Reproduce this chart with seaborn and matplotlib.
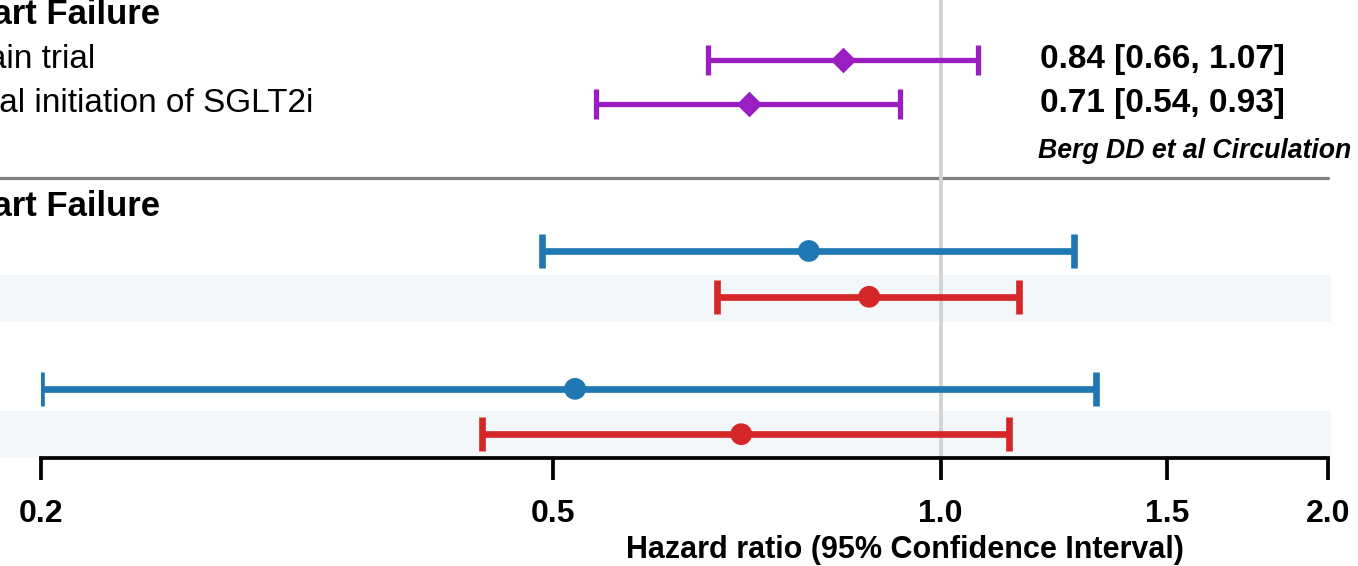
import matplotlib
matplotlib.use("Agg")
import matplotlib.pyplot as plt
import seaborn as sns
import pandas as pd
from matplotlib.ticker import NullLocator

# upper panel (single estimates, purple diamonds)
top_labels = ["Main trial", "Universal initiation of SGLT2i"]
top_hr = [0.84, 0.71]
top_lo = [0.66, 0.54]
top_hi = [1.07, 0.93]
top_text = ["0.84 [0.66, 1.07]", "0.71 [0.54, 0.93]"]
citation = "Berg DD et al Circulation"
header = "Heart Failure"

# lower panel (two series, blue / red)
low_group = ["A", "B", "A", "B"]
low_hr = [0.79, 0.88, 0.52, 0.70]
low_lo = [0.49, 0.67, 0.20, 0.44]
low_hi = [1.27, 1.15, 1.32, 1.13]

xticks = [0.2, 0.5, 1.0, 1.5, 2.0]
xticklabels = ["0.2", "0.5", "1.0", "1.5", "2.0"]
xlabel = "Hazard ratio (95% Confidence Interval)"

# layout (rows counted from the top, 10 rows high)
top_rows = [1.31, 2.27]
low_rows = [5.48, 6.48, 8.49, 9.48]
band_rows = [(6.0, 7.02), (8.97, 10.0)]
header_rows = [0.32, 4.5]
sep_row = 3.89
cite_row = 3.3

colors = {"A": "#1f77b4", "B": "#d62728"}
purple = "#9a1ec1"

sns.set_style("white")
plt.rcParams["font.family"] = ["Liberation Sans", "DejaVu Sans"]
plt.rcParams["text.color"] = "black"

W, H = 1358, 566
fig = plt.figure(figsize=(W / 100, H / 100), dpi=100)
ax = fig.add_axes([41 / W, 1 - 458 / H, 1287 / W, 458 / H])
ax.set_xscale("log")

top = pd.DataFrame({"hr": top_hr, "lo": top_lo, "hi": top_hi, "y": top_rows})
low = pd.DataFrame({"group": low_group, "hr": low_hr, "lo": low_lo, "hi": low_hi, "y": low_rows})

# shaded bands and separator
for b0, b1 in band_rows:
    ax.axhspan(b0, b1, xmin=-0.04, xmax=1.0023, color="#f3f7f9", lw=0, clip_on=False, zorder=0)
ax.axhline(sep_row, xmin=-0.04, xmax=1.0, color="#808080", lw=2.3, clip_on=False, zorder=1)
ax.axvline(1.0, color="#d3d3d3", lw=2.8, zorder=2)

# confidence intervals
ax.errorbar(top["hr"], top["y"], xerr=[top["hr"] - top["lo"], top["hi"] - top["hr"]],
            fmt="none", ecolor=purple, elinewidth=3.8, capsize=11, capthick=3.8, zorder=3)
for g, d in low.groupby("group"):
    ax.errorbar(d["hr"], d["y"], xerr=[d["hr"] - d["lo"], d["hi"] - d["hr"]],
                fmt="none", ecolor=colors[g], elinewidth=4.8, capsize=12.5, capthick=4.8, zorder=3)

# point estimates
sns.scatterplot(data=top, x="hr", y="y", marker="D", s=170, color=purple,
                linewidth=0, legend=False, ax=ax, zorder=4)
sns.scatterplot(data=low, x="hr", y="y", hue="group", palette=colors, s=245,
                linewidth=0, legend=False, ax=ax, zorder=4)

ax.set_xlim(0.2, 2.0)
ax.set_ylim(10, 0)
ax.set_xticks(xticks)
ax.set_xticklabels(xticklabels)
ax.xaxis.set_minor_locator(NullLocator())
ax.set_yticks([])
ax.set_xlabel("")
ax.set_ylabel("")
ax.tick_params(axis="x", bottom=True, direction="out", length=15.5, width=2.7,
               pad=14, labelsize=23, colors="black")
for t in ax.get_xticklabels():
    t.set_fontweight("bold")
for s in ["top", "right", "left"]:
    ax.spines[s].set_visible(False)
ax.spines["bottom"].set_linewidth(2.7)
ax.spines["bottom"].set_color("black")

ytr = ax.get_yaxis_transform()
for r in header_rows:
    ax.text(0.0925, r, header, transform=ytr, ha="right", va="center",
            fontsize=25, fontweight="bold")
ax.text(0.042, top_rows[0], top_labels[0], transform=ytr, ha="right", va="center", fontsize=24)
ax.text(0.2113, top_rows[1], top_labels[1], transform=ytr, ha="right", va="center", fontsize=24)
for r, t in zip(top_rows, top_text):
    ax.text(0.776, r, t, transform=ytr, ha="left", va="center", fontsize=24, fontweight="bold")
ax.text(0.7747, cite_row, citation, transform=ytr, ha="left", va="center",
        fontsize=19.2, fontweight="bold", fontstyle="italic")

fig.text(905 / W, 1 - 550 / H, xlabel, ha="center", va="center", fontsize=22,
         fontweight="bold")

fig.savefig("out.png", dpi=100)
